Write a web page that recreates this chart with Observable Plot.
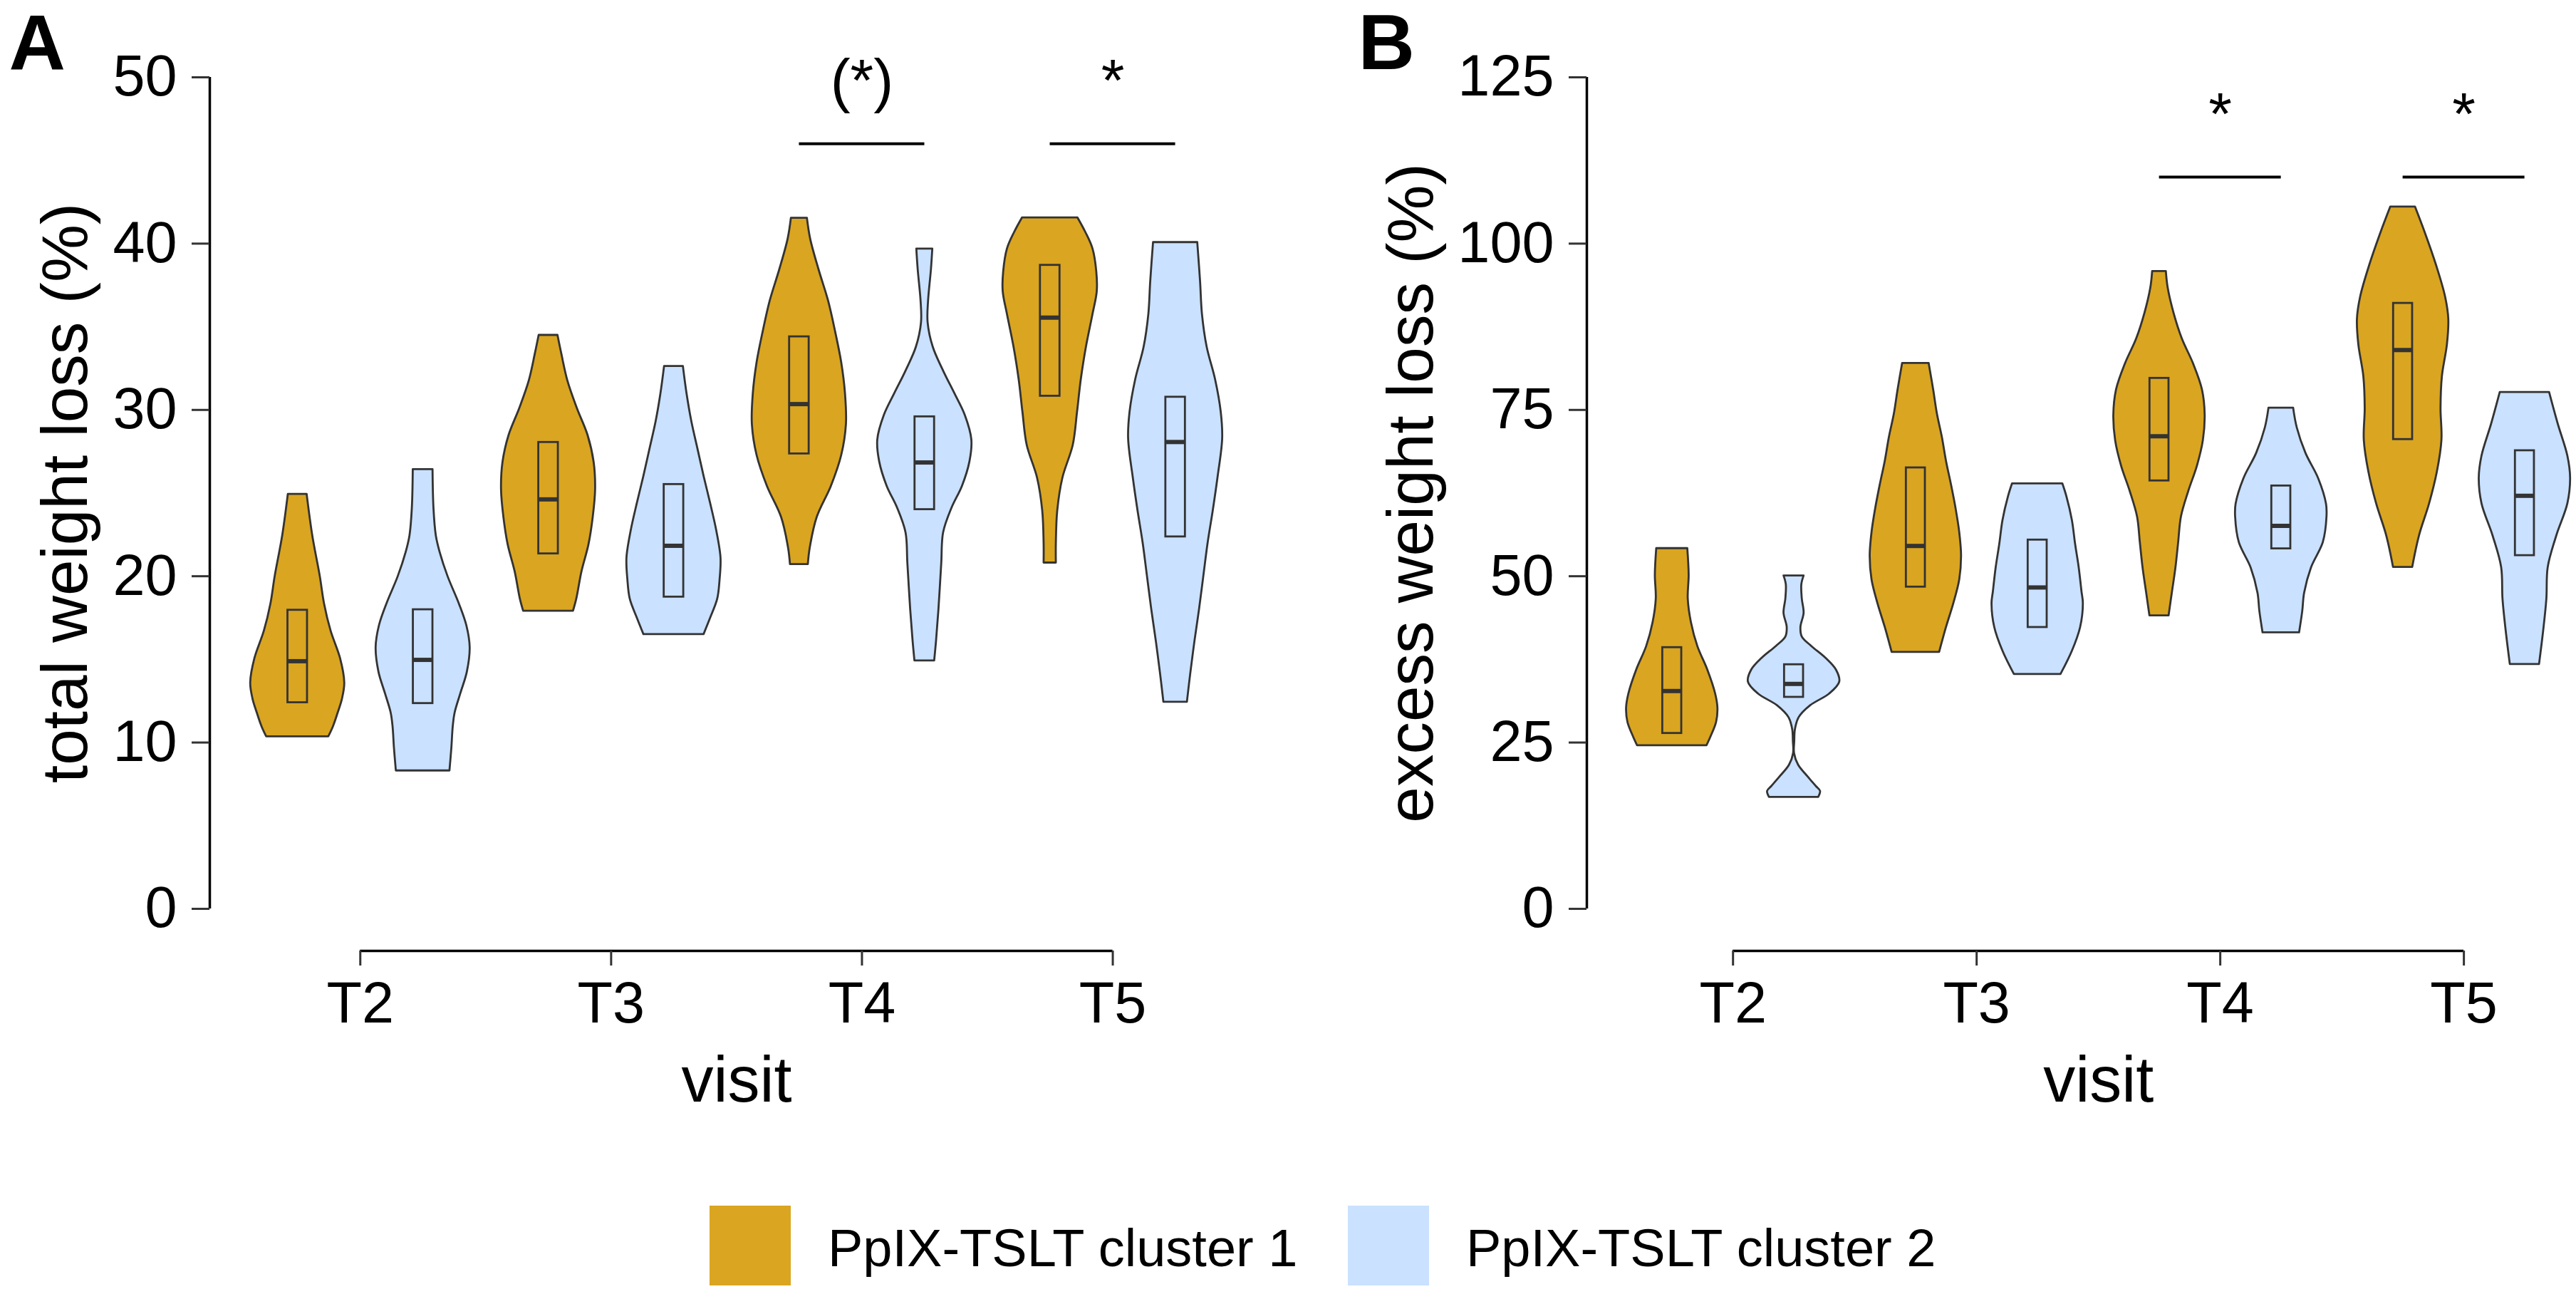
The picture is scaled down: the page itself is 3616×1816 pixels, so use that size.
<!DOCTYPE html>
<html>
<head>
<meta charset="utf-8">
<script src="https://cdn.jsdelivr.net/npm/d3@7"></script>
<script src="https://cdn.jsdelivr.net/npm/@observablehq/plot@0.6"></script>
<style>
  html, body { margin: 0; padding: 0; background: white; }
  #root { position: relative; width: 3616px; height: 1816px; background: white; font-family: "Liberation Sans", Arial, sans-serif; }
  .pane { position: absolute; top: 0; }
</style>
</head>
<body>
<div id="root"></div>
<script>
// ---------------- data ----------------
const visits = ["T2", "T3", "T4", "T5"];
const clusters = ["PpIX-TSLT cluster 1", "PpIX-TSLT cluster 2"];
const clusterColors = ["#DAA520", "#CAE1FF"];

// Panel A: total weight loss (%) — violin outlines as [value, relative density]
const twlT2c1 = [[24.93,0.20],[22.43,0.32],[19.98,0.48],[18.34,0.57],[16.70,0.71],[15.06,0.91],[13.58,1.00],[12.60,0.95],[11.78,0.86],[10.96,0.76],[10.35,0.66]];
const twlT2c2 = [[26.42,0.21],[24.08,0.23],[22.43,0.28],[21.45,0.36],[19.98,0.53],[18.34,0.77],[17.02,0.93],[15.71,1.00],[14.24,0.94],[12.93,0.80],[11.78,0.68],[10.96,0.64],[9.65,0.61],[8.30,0.57]];
const twlT3c1 = [[34.49,0.20],[33.39,0.28],[31.75,0.41],[30.11,0.61],[28.47,0.84],[26.83,0.97],[25.19,1.00],[23.55,0.95],[21.91,0.86],[20.27,0.71],[18.63,0.60],[17.90,0.53]];
const twlT3c2 = [[32.62,0.20],[30.93,0.28],[29.29,0.38],[27.65,0.51],[26.01,0.64],[24.37,0.78],[22.73,0.91],[21.09,1.00],[19.78,0.98],[18.63,0.93],[17.49,0.78],[16.50,0.64]];
const twlT4c1 = [[41.53,0.17],[40.27,0.24],[38.41,0.42],[36.56,0.62],[34.70,0.77],[32.84,0.90],[30.98,0.98],[29.13,1.00],[27.27,0.90],[25.41,0.68],[23.55,0.38],[21.69,0.23],[20.71,0.19]];
const twlT4c2 = [[39.68,0.17],[38.41,0.14],[36.56,0.08],[35.26,0.07],[33.77,0.18],[32.28,0.41],[30.98,0.64],[29.68,0.86],[28.20,1.00],[26.89,0.96],[25.41,0.80],[24.11,0.58],[22.62,0.40],[20.76,0.36],[17.98,0.30],[16.12,0.25],[14.91,0.21]];
const twlT5c1 = [[41.55,0.59],[40.66,0.76],[39.68,0.91],[38.30,0.99],[37.12,1.00],[35.75,0.91],[33.78,0.77],[31.81,0.66],[29.85,0.58],[27.88,0.49],[25.91,0.27],[23.94,0.16],[21.98,0.13],[20.80,0.13]];
const twlT5c2 = [[40.07,0.47],[37.71,0.53],[35.75,0.57],[33.78,0.67],[31.81,0.85],[29.85,0.97],[28.27,1.00],[25.91,0.90],[23.94,0.80],[21.98,0.69],[20.01,0.60],[18.04,0.51],[16.07,0.41],[14.11,0.32],[12.43,0.25]];
// box statistics, order: T2 c1, T2 c2, T3 c1, T3 c2, T4 c1, T4 c2, T5 c1, T5 c2
const twlQ3     = [17.96, 17.99, 28.05, 25.52, 34.40, 29.59, 38.70, 30.77];
const twlMedian = [14.89, 14.97, 24.62, 21.83, 30.35, 26.84, 35.55, 28.07];
const twlQ1     = [12.40, 12.35, 21.35, 18.75, 27.36, 24.01, 30.83, 22.37];
const twlTicks = [0, 10, 20, 30, 40, 50];
const twlSigVisits = ["T4", "T5"];
const twlSigLabels = ["(*)", "*"];
const twlSigLevel = 46;

// Panel B: excess weight loss (%)
const ewlT2c1 = [[54.17,0.34],[50.16,0.37],[46.59,0.35],[43.03,0.42],[39.45,0.56],[35.88,0.78],[32.32,0.95],[30.17,1.00],[28.03,0.97],[25.89,0.85],[24.53,0.76]];
const ewlT2c2 = [[50.06,0.22],[48.74,0.17],[46.59,0.18],[44.45,0.22],[42.31,0.15],[40.88,0.18],[39.45,0.39],[37.67,0.70],[35.88,0.93],[34.10,1.00],[32.32,0.78],[30.53,0.36],[28.74,0.11],[26.96,0.03],[25.17,0.015],[23.38,0.01],[21.60,0.10],[19.82,0.31],[18.39,0.49],[17.67,0.58],[16.78,0.54]];
const ewlT3c1 = [[82.01,0.29],[78.01,0.39],[74.44,0.47],[70.88,0.58],[67.30,0.67],[63.73,0.78],[60.16,0.88],[56.59,0.96],[53.02,1.00],[49.45,0.96],[45.88,0.83],[42.31,0.67],[38.56,0.52]];
const ewlT3c2 = [[63.91,0.55],[61.95,0.64],[58.38,0.76],[54.81,0.83],[51.23,0.91],[47.66,0.97],[45.88,1.00],[42.31,0.94],[38.74,0.76],[35.24,0.51]];
const ewlT4c1 = [[95.83,0.15],[93.34,0.19],[89.51,0.32],[85.69,0.50],[81.87,0.75],[78.04,0.94],[74.22,1.00],[70.38,0.96],[66.56,0.83],[62.74,0.64],[58.91,0.48],[55.09,0.42],[51.26,0.36],[47.44,0.28],[44.07,0.21]];
const ewlT4c2 = [[75.29,0.27],[72.30,0.35],[68.48,0.54],[64.65,0.82],[60.83,0.99],[58.91,1.00],[55.09,0.92],[51.26,0.66],[47.44,0.51],[44.76,0.47],[41.51,0.40]];
const ewlT5c1 = [[105.52,0.27],[101.54,0.49],[96.77,0.73],[91.98,0.93],[88.64,1.00],[84.81,0.97],[80.02,0.86],[75.25,0.83],[70.47,0.85],[65.68,0.75],[60.90,0.58],[56.12,0.36],[51.34,0.21]];
const ewlT5c2 = [[77.64,0.54],[72.86,0.73],[68.07,0.94],[64.73,1.00],[60.90,0.94],[56.12,0.70],[51.34,0.51],[46.55,0.48],[41.77,0.41],[36.75,0.32]];
const ewlQ3     = [39.28, 36.71, 66.30, 55.45, 79.76, 63.58, 91.03, 68.88];
const ewlMedian = [32.74, 33.81, 54.55, 48.31, 71.04, 57.57, 84.00, 62.09];
const ewlQ1     = [26.38, 31.81, 48.38, 42.31, 64.34, 54.13, 70.56, 53.11];
const ewlTicks = [0, 25, 50, 75, 100, 125];
const ewlSigVisits = ["T4", "T5"];
const ewlSigLabels = ["*", "*"];
const ewlSigLevel = 110;

// ---------------- layout constants ----------------
const FONT = "'Liberation Sans', Arial, Helvetica, sans-serif";
const INK = "#333333";
const groupOffset = 0.25;     // cluster offset from visit position
const violinHalf = 0.1875;    // half width of the widest violin part (x units)
const boxHalf = 0.039;        // half width of the IQR box
const axisGap = 0.0506;       // x axis line sits this fraction of the range below 0
const xDomain = [0.4, 4.45];
const PANEL_W = 1808, PANEL_H = 1600;
const FRAME_TOP = 108, FRAME_BOTTOM = 1334;

function panel(cfg) {
  const top = cfg.ticks[cfg.ticks.length - 1];
  const yMin = -axisGap * top;
  const rows = [], boxes = [];
  cfg.profiles.forEach((prof, k) => {
    const vi = Math.floor(k / 2), ci = k % 2;
    const cx = vi + 1 + (ci === 0 ? -groupOffset : groupOffset);
    prof.forEach(([y, d]) => rows.push({id: k, cluster: clusters[ci], cx, y, d}));
    boxes.push({cluster: clusters[ci], cx, q1: cfg.q1[k], med: cfg.med[k], q3: cfg.q3[k]});
  });
  const sig = cfg.sigVisits.map((v, i) => ({x: visits.indexOf(v) + 1, label: cfg.sigLabels[i], y: cfg.sigLevel}));
  const xPos = visits.map((v, i) => i + 1);

  return Plot.plot({
    width: PANEL_W,
    height: PANEL_H,
    marginLeft: cfg.marginLeft,
    marginRight: cfg.marginRight,
    marginTop: FRAME_TOP,
    marginBottom: PANEL_H - FRAME_BOTTOM,
    style: {background: "white", fontFamily: FONT, fontSize: "81px", color: "black", overflow: "visible"},
    x: {domain: xDomain, axis: null},
    y: {domain: [yMin, top], axis: null},
    color: {domain: clusters, range: clusterColors},
    marks: [
      // violins
      Plot.areaX(rows, {
        y: "y",
        x1: d => d.cx - d.d * violinHalf,
        x2: d => d.cx + d.d * violinHalf,
        z: "id",
        fill: "cluster",
        stroke: INK,
        strokeWidth: 2.8,
        strokeLinejoin: "round",
        curve: "catmull-rom"
      }),
      // IQR boxes
      Plot.rect(boxes, {
        x1: d => d.cx - boxHalf, x2: d => d.cx + boxHalf,
        y1: "q1", y2: "q3",
        fill: "none", stroke: INK, strokeWidth: 2.8
      }),
      // medians
      Plot.ruleY(boxes, {
        y: "med",
        x1: d => d.cx - boxHalf, x2: d => d.cx + boxHalf,
        stroke: INK, strokeWidth: 6
      }),
      // significance bars and labels
      Plot.ruleY(sig, {y: "y", x1: d => d.x - groupOffset, x2: d => d.x + groupOffset, stroke: "black", strokeWidth: 4}),
      Plot.text(sig, {x: "x", y: "y", text: "label", dy: -60, lineAnchor: "bottom", fontSize: 84, fill: "black"}),
      // y axis
      Plot.ruleX([xDomain[0]], {y1: 0, y2: top, stroke: "black", strokeWidth: 3.5}),
      Plot.axisY({ticks: cfg.ticks, tickFormat: d => String(d), tickSize: 25, tickPadding: 21,
                  strokeWidth: 3, stroke: INK, fontSize: 81, label: null}),
      // x axis
      Plot.ruleY([yMin], {x1: xPos[0], x2: xPos[xPos.length - 1], stroke: "black", strokeWidth: 3.5}),
      Plot.axisX({ticks: xPos, tickFormat: d => visits[d - 1], tickSize: 21, tickPadding: 22,
                  strokeWidth: 3, stroke: INK, fontSize: 81, label: null}),
      // axis titles
      Plot.text([cfg.label], {x: xDomain[0], y: top / 2, rotate: -90, dx: cfg.labelDx,
                              lineAnchor: "bottom", textAnchor: "middle", fontSize: 91, fill: "black"}),
      Plot.text(["visit"], {x: (xPos[0] + xPos[xPos.length - 1]) / 2, frameAnchor: "bottom", dy: 211,
                            lineAnchor: "bottom", textAnchor: "middle", fontSize: 90, fill: "black"}),
      // panel letter
      Plot.text([cfg.letter], {frameAnchor: "top-left", dx: cfg.letterDx, dy: -12, lineAnchor: "bottom",
                               textAnchor: "start", fontSize: 110, fontWeight: "bold", fill: "black"})
    ]
  });
}

const root = document.getElementById("root");

const pA = panel({
  profiles: [twlT2c1, twlT2c2, twlT3c1, twlT3c2, twlT4c1, twlT4c2, twlT5c1, twlT5c2],
  q1: twlQ1, med: twlMedian, q3: twlQ3,
  ticks: twlTicks, label: "total weight loss (%)", letter: "A",
  sigVisits: twlSigVisits, sigLabels: twlSigLabels, sigLevel: twlSigLevel,
  marginLeft: 294, marginRight: 88, labelDx: -173, letterDx: -282
});
pA.classList.add("pane");
pA.style.left = "0px";
root.appendChild(pA);

const pB = panel({
  profiles: [ewlT2c1, ewlT2c2, ewlT3c1, ewlT3c2, ewlT4c1, ewlT4c2, ewlT5c1, ewlT5c2],
  q1: ewlQ1, med: ewlMedian, q3: ewlQ3,
  ticks: ewlTicks, label: "excess weight loss (%)", letter: "B",
  sigVisits: ewlSigVisits, sigLabels: ewlSigLabels, sigLevel: ewlSigLevel,
  marginLeft: 419, marginRight: 4, labelDx: -217, letterDx: -321
});
pB.classList.add("pane");
pB.style.left = PANEL_W + "px";
root.appendChild(pB);

// legend below the panels
const legendItems = clusters.map((c, i) => ({label: c, color: clusterColors[i]}));
const legendSwatchX = [996, 1892];
const legend = d3.create("svg")
  .attr("width", 3616).attr("height", 1816 - PANEL_H)
  .style("position", "absolute").style("left", "0px").style("top", PANEL_H + "px")
  .style("font-family", FONT);
const g = legend.selectAll("g").data(legendItems).join("g")
  .attr("transform", (d, i) => `translate(${legendSwatchX[i]},0)`);
g.append("rect").attr("x", 0).attr("y", 92).attr("width", 114).attr("height", 112).attr("fill", d => d.color);
g.append("text").attr("x", 166).attr("y", 177).attr("font-size", 74).attr("fill", "black").text(d => d.label);
root.appendChild(legend.node());
</script>
</body>
</html>
